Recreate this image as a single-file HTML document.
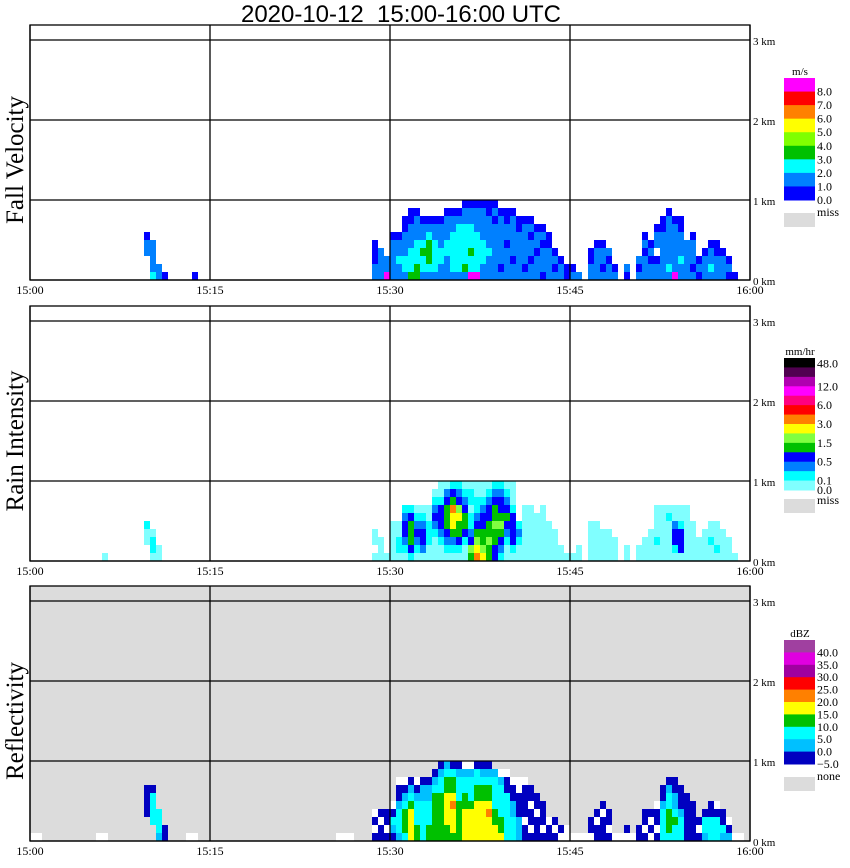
<!DOCTYPE html>
<html><head><meta charset="utf-8"><style>
html,body{margin:0;padding:0;background:#fff;}
svg{display:block;font-family:"Liberation Serif",serif;}
</style></head><body>
<svg id="chart" width="850" height="868" viewBox="0 0 850 868" xmlns="http://www.w3.org/2000/svg">
<text x="401" y="22" font-family="Liberation Sans, sans-serif" font-size="24" text-anchor="middle" textLength="320" lengthAdjust="spacingAndGlyphs">2020-10-12&#160;&#160;15:00-16:00&#160;UTC</text>
<g id="panels"></g>
</svg>
<script>
// ---- data ----
const timeTicks = ["15:00","15:15","15:30","15:45","16:00"];
const heightTicks = ["0 km","1 km","2 km","3 km"];
const panelTitles = ["Fall Velocity","Rain Intensity","Reflectivity"];
const velUnits = "m/s";
const rainUnits = "mm/hr";
const reflUnits = "dBZ";
const velColors = ["#0000ff","#0080ff","#00ffff","#00c000","#80ff00","#ffff00","#ff8000","#ff0000","#ff00ff"];
const rainColors = ["#80ffff","#00ffff","#0080ff","#0000ff","#00c000","#80ff40","#ffff00","#ff8000","#ff0000","#ff0080","#ff00ff","#b000b0","#500050","#000000"];
const reflColors = ["#0000c0","#00c0ff","#00ffff","#00c000","#ffff00","#ff8000","#ff0000","#a000a0","#e000e0","#a040a0"];
const velLabels = ["8.0","7.0","6.0","5.0","4.0","3.0","2.0","1.0","0.0"];
const rainLabels = ["48.0","12.0","6.0","3.0","1.5","0.5","0.1","0.0"];
const reflLabels = ["40.0","35.0","30.0","25.0","20.0","15.0","10.0","5.0","0.0","\u22125.0"];
// column profiles: 120 columns of 30 s, each string bottom-up in 0.1 km bins
const velCols = [
"","","","","","","","","","",
"","","","","","","","","","...110",
"21111","11","0","","","","","0","","",
"","","","","","","","","","",
"","","","","","","","","","",
"","","","","","","","11000","1111","811",
"111110","112110","12211100","322211100","332221110","12232110","12333210","12222110","11221110","111221110",
"122222110","122222210","1322222110","8223222110","8222221110","1122211110","1112111100","1111111010","101111110","111101100",
"110111110","11111100","10111110","11011010","1110110","0111010","111100","1010","110","00",
"10","1","","1100","11110","10110","1101","10","","01",
"","101","111010","11010","110.110","11111100","121111110","81111110","11211100","11111",
"101110","010","1110","12110","11100","1110","010","0","",""];
const rainCols = [
"","","","","","","","","","",
"","","0","","","","","","","..001",
"0110","00","","","","","","","","",
"","","","","","","","","","",
"","","","","","","","","","",
"","","","","","","","0.00","000","0",
"00000","01100","0123321","1344431","0123210","0233210","0011100","000123210","0012333100","0123444320",
"0124667431","0134465321","0013443210","4532110110","7654321100","6544332100","4454433210","3344544321","1234543321","0012343210",
"0133331000","00121","0000000","0000000","000000","0000000","00000","0000","00","0",
"0","00","","00000","00000","0000","0000","000","","00",
"","00","000","0000","0010000","0000000","0000010","0133200","0333100","0000000",
"00000","000","0000","00100","01000","0000","000","0","",""];
const reflCols = [
"w","w","","","","","","","","",
"","w","w","","","","","","","...0000",
"..22220","1222","00","","","","w","w","","",
"","","","","","","","","","",
"","","","","","","","","","",
"","w","w","w","","","","0w0w","00w0","0w00",
"0120w","1222100w","2333210w","44443210","3322210w","22222110","33222110","333333210","3333332210","3344443321",
"3444543320","3333322210","444433221w","444432221w","4444433220","4444433210","4445433210","443322221","43322221w","22222200w",
"2221100w","111000ww","00w0000w","0w00w00","000w00","0w000","00w","0w0","w0","ww",
"w","w","w","w00","00w0","000w0","0w00","w","w","w0",
"w","00","0w00","w0w0","0w00w","2222100","23332210","22321100","2221000","000000",
"00000","0w0","1220","22200","2220w","1200","10w","w","w",""];

// ---- layout ----
const NS="http://www.w3.org/2000/svg";
const X0=30, X1=750, NCOL=120;
const panelBottoms=[280,561,841];
const KM=80, BIN=8;
function xScale(i){return X0+(X1-X0)*i/NCOL;}
function yScale(base,km){return base-km*KM;}
function mk(tag,attrs,parent){const e=document.createElementNS(NS,tag);for(const k in attrs)e.setAttribute(k,attrs[k]);parent.appendChild(e);return e;}
const root=document.getElementById('panels');
const sets=[
 {cols:velCols,colors:velColors,labels:velLabels,units:velUnits,miss:"miss",bg:"#fff"},
 {cols:rainCols,colors:rainColors,labels:rainLabels,units:rainUnits,miss:"miss",bg:"#fff"},
 {cols:reflCols,colors:reflColors,labels:reflLabels,units:reflUnits,miss:"none",bg:"#dcdcdc"}];
const legTop=[78,358,640], legBot=[200,490,764];
sets.forEach((s,p)=>{
  const b=panelBottoms[p], top=b-255;
  const g=mk('g',{},root);
  
  
  const bg=mk('rect',{x:X0,y:top,width:X1-X0,height:b-top,fill:s.bg},g);
  
  
  const cells=mk('g',{},g);
  
  
  s.cols.forEach((str,i)=>{
    for(let r=0;r<str.length;r++){
      const ch=str[r]; if(ch==='.')continue;
      const col= ch==='w' ? '#ffffff' : s.colors[parseInt(ch,16)];
      const c=mk('rect',{x:xScale(i),y:yScale(b,(r+1)*0.1),width:xScale(i+1)-xScale(i),height:BIN,fill:col},cells);
      
      
    }
  });
  for(let k=0;k<=3;k++){const y=yScale(b,k);const l=mk('line',{x1:X0,x2:X1,y1:y,y2:y,stroke:'#000','stroke-width':1.3},g);
    
    const t=mk('text',{x:753,y:y+5,'font-size':11},g);t.textContent=heightTicks[k];
    }
  for(let k=0;k<timeTicks.length;k++){const x=X0+k*180;const l=mk('line',{x1:x,x2:x,y1:top,y2:b,stroke:'#000','stroke-width':1.3},g);
    
    const t=mk('text',{x:x,y:b+14,'font-size':12,'text-anchor':'middle'},g);t.textContent=timeTicks[k];
    }
  const fr=mk('rect',{x:X0,y:top,width:X1-X0,height:b-top,fill:'none',stroke:'#000','stroke-width':1.3},g);
  
  const yt=mk('text',{x:0,y:0,'font-size':25,'text-anchor':'middle',transform:`translate(23,${b-120}) rotate(-90)`},g);
  yt.textContent=panelTitles[p];
  
  const lg=mk('g',{},g);
  
  const n=s.colors.length, h=(legBot[p]-legTop[p])/n;
  const u=mk('text',{x:800,y:legTop[p]-3,'font-size':11,'text-anchor':'middle'},lg);u.textContent=s.units;
  
  for(let i=0;i<n;i++){const r=mk('rect',{x:784,y:legTop[p]+i*h,width:31,height:h+0.5,fill:s.colors[n-1-i]},lg);
    }
  s.labels.forEach((lab,j)=>{
    let y;
    if(p===1){ y = j<7 ? legTop[p]+(j*2+1)*h+4 : legBot[p]+4; if(j===0) y=legTop[p]+h+0; }
    else y=legTop[p]+(j+1)*h+4;
    const t=mk('text',{x:817,y:y,'font-size':12},lg);t.textContent=lab;
    
  });
  const mr=mk('rect',{x:784,y:legBot[p]+(p===1?9:13),width:31,height:14,fill:'#dcdcdc'},lg);
  
  const mt=mk('text',{x:817,y:legBot[p]+(p===1?14:16),'font-size':12},lg);mt.textContent=s.miss;
  
});
</script>
</body></html>
